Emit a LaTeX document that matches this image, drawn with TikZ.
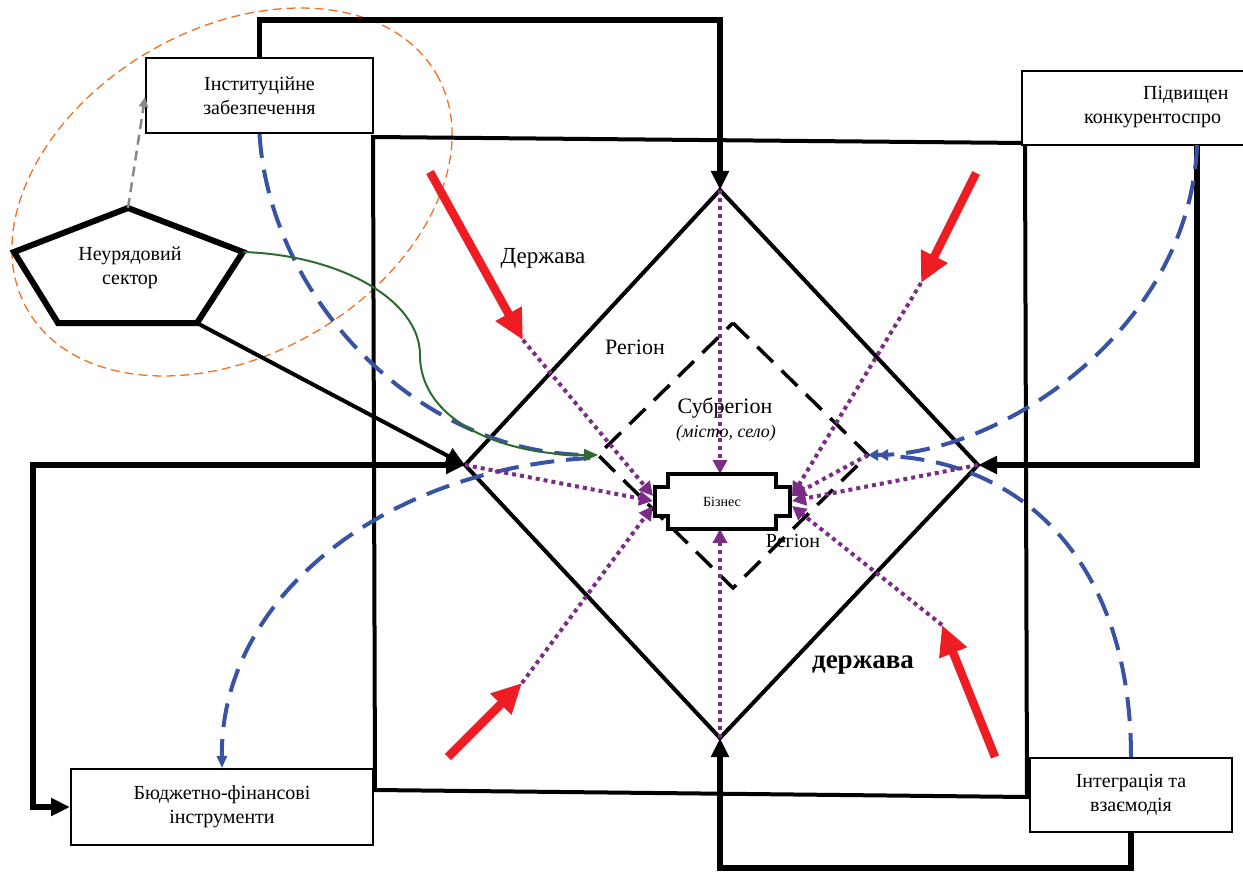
\documentclass[tikz,border=0pt]{standalone}
\usepackage{fontspec}
\setmainfont{Liberation Serif}
\usetikzlibrary{arrows.meta}
\definecolor{redA}{HTML}{EE1D23}
\definecolor{blueA}{HTML}{3953A4}
\definecolor{greenA}{HTML}{2E6B30}
\definecolor{purpA}{HTML}{7B2C87}
\definecolor{orangeA}{HTML}{F37021}
\definecolor{grayA}{HTML}{888888}
\begin{document}
\begin{tikzpicture}[x=1pt,y=-1pt,line join=miter,
  txt/.style={font=\fontsize{20}{24}\selectfont, align=center, inner sep=0pt},
  box/.style={draw, line width=2pt, fill=white, txt},
  blk/.style={line width=5.5pt, -{Triangle[length=19pt,width=17pt]}},
  redarr/.style={draw=redA, line width=8.5pt, -{Triangle[length=30pt,width=28pt,fill=redA]}},
  purp/.style={draw=purpA, line width=4pt, dash pattern=on 4pt off 4pt, -{Triangle[length=14pt,width=14pt,fill=purpA]}},
  bluedash/.style={draw=blueA, line width=4pt, dash pattern=on 24pt off 12pt}
]
\useasboundingbox (0,0) rectangle (1243,872);

% orange dashed ellipse
\draw[orangeA, line width=1.3pt, dash pattern=on 9pt off 5pt, rotate around={30:(232,192)}] (232,192) ellipse [x radius=236, y radius=163];

% coordinates
\coordinate (dT) at (720,190);
\coordinate (dL) at (465,465);
\coordinate (dR) at (978,465);
\coordinate (dB) at (720,738);
\coordinate (sT) at (733,323);
\coordinate (sL) at (598,455);
\coordinate (sR) at (868,455);
\coordinate (sB) at (733,588);
\coordinate (pT) at (128,208);
\coordinate (pR) at (243,252);
\coordinate (pBR) at (197,323);
\coordinate (pBL) at (58,323);
\coordinate (pL) at (14,252);
\coordinate (r1s) at (430,172); \coordinate (r1t) at (523,340);
\coordinate (r2s) at (976,173); \coordinate (r2t) at (921,283);
\coordinate (r3s) at (448,757); \coordinate (r3t) at (522,683);
\coordinate (r4s) at (995,757); \coordinate (r4t) at (942,625);
\coordinate (bizL1) at (653,496);
\coordinate (bizL2) at (653,501);
\coordinate (bizL3) at (653,506);
\coordinate (bizR1) at (792,496);
\coordinate (bizR2) at (792,501);
\coordinate (bizR3) at (792,506);
\coordinate (bizT) at (720,474);
\coordinate (bizB) at (720,529);
\coordinate (pidvS) at (1197,145);

% big square
\draw[line width=4pt] (373,137) -- (1025,143) -- (1027,797) -- (375,790) -- cycle;

% boxes
\node[box, minimum width=227pt, minimum height=75pt] (inst) at (259.5,95.5) {Інституційне\\забезпечення};
\node[box, minimum width=302pt, minimum height=76pt] (budg) at (222,807) {Бюджетно-фінансові\\інструменти};
\node[box, minimum width=202pt, minimum height=74pt] (integr) at (1131,795) {Інтеграція та\\взаємодія};
\node[fill=white, inner sep=0pt, minimum width=221pt, minimum height=74pt] (pidv) at (1132.5,108) {};
\draw[line width=2pt] (pidv.north east) -- (pidv.north west) -- (pidv.south west) -- (pidv.south east);
\node[txt, anchor=base west] (pidv1) at (1143,100) {Підвищен};
\node[txt, anchor=base west] (pidv2) at (1084,124) {конкурентоспро};

% diamonds
\draw[line width=4pt] (dT) -- (dR) -- (dB) -- (dL) -- cycle;
\draw[line width=3.5pt, dash pattern=on 22pt off 12pt] (sT) -- (sR) -- (sB) -- (sL) -- cycle;

% black connectors
\draw[blk] (inst.north) |- (720,20) -- (dT);
\draw[blk] (pidvS) |- (dR);
\draw[blk] (integr.south) -- ++(0,35) -| (dB);
\draw[line width=5.5pt, {Triangle[length=19pt,width=17pt]}-{Triangle[length=19pt,width=17pt]}] (budg.west) -- (33,807) |- (dL);
\draw[line width=4pt, -{Triangle[length=19pt,width=17pt]}] (pBR) -- (dL);

% blue dashed curves
\draw[bluedash] (inst.south) .. controls (270,300) and (420,455) .. (590,455);
\draw[bluedash, -{Triangle[length=12pt,width=10pt,fill=blueA]}] (590,458) .. controls (380,470) and (220,600) .. (budg.north);
\draw[bluedash, -{Triangle[length=10pt,width=11pt,fill=blueA]Triangle[length=10pt,width=11pt,fill=blueA]}] (pidvS) .. controls (1190,330) and (1000,455) .. (sR);
\draw[bluedash] (integr.north) .. controls (1131,560) and (1020,460) .. (885,456);

% pentagon
\draw[line width=6pt, fill=white] (pT) -- (pR) -- (pBR) -- (pBL) -- (pL) -- cycle;
\node[txt] (ngo) at (130,268) {Неурядовий\\сектор};

% gray dashed arrow
\draw[grayA, line width=2.5pt, dash pattern=on 10pt off 6pt, -{Triangle[length=10pt,width=9pt,fill=grayA]}] (pT) -- (inst.south west |- 0,97);

% green curve
\draw[greenA, line width=2pt, -{Triangle[length=14pt,width=12pt,fill=greenA]}] (pR) .. controls (340,255) and (420,300) .. (420,355) .. controls (420,420) and (500,455) .. (sL);

% purple dotted arrows
\draw[purp] (dT) -- (bizT);
\draw[purp] (dB) -- (bizB);
\draw[purp] (dL) -- (bizL2);
\draw[purp] (dR) -- (bizR2);
\draw[purp] (r1t) -- (bizL1);
\draw[purp] (r3t) -- (bizL3);
\draw[purp] (r2t) -- (bizR1);
\draw[purp] (r4t) -- (bizR3);
\draw[purp] (sR) -- (bizR1);

% business shape
\draw[line width=4pt, fill=white] (668,474) -- (776,474) -- (776,487) -- (790,487) -- (790,516) -- (776,516) -- (776,529) -- (668,529) -- (668,516) -- (655,516) -- (655,487) -- (668,487) -- cycle;
\node[txt, font=\fontsize{14}{16}\selectfont] (biz) at (722,502) {Бізнес};

% red arrows
\draw[redarr] (r1s) -- (r1t);
\draw[redarr] (r2s) -- (r2t);
\draw[redarr] (r3s) -- (r3t);
\draw[redarr] (r4s) -- (r4t);

% labels
\node[txt, font=\fontsize{23}{26}\selectfont] (lDerzh) at (543,258) {Держава};
\node[txt, font=\fontsize{22}{26}\selectfont] (lReg) at (635,347) {Регіон};
\node[txt, font=\fontsize{22}{26}\selectfont] (lSub) at (725,408) {Субрегіон};
\node[txt, font=\fontsize{18}{22}\selectfont\itshape] (lCity) at (726,433) {(місто, село)};
\node[txt, font=\fontsize{20}{24}\selectfont] (lReg2) at (793,541) {Регіон};
\node[txt, font=\fontsize{27}{30}\selectfont\bfseries] (lDerzh2) at (863,665) {держава};
\end{tikzpicture}
\end{document}
